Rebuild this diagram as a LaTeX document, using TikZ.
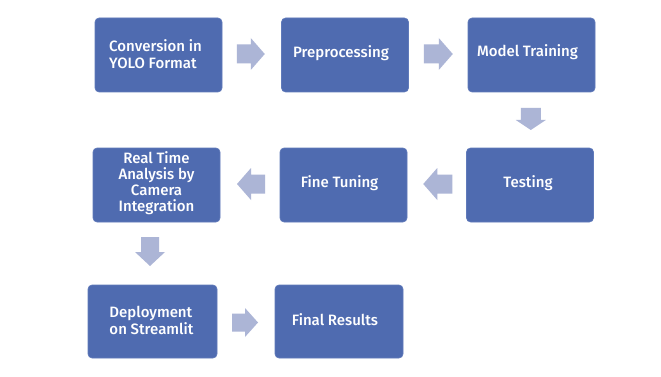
\documentclass[tikz,border=0pt]{standalone}
\usepackage{fontspec}
\setmainfont{Fira Sans Medium}
\usetikzlibrary{calc}
\definecolor{boxblue}{RGB}{79,107,176}
\definecolor{boxedge}{RGB}{96,122,186}
\definecolor{arrowblue}{RGB}{172,181,214}
\tikzset{
  stepbox/.style={draw=boxedge, line width=0.6pt, fill=boxblue, rounded corners=4pt,
    minimum width=127pt, minimum height=74pt, inner sep=0pt, text=white},
  lbl/.style={text=white, font=\fontsize{15}{17.5}\selectfont, inner sep=0pt}
}
% block arrow: centre, rotation, length, head length, shaft half width, head half width
\newcommand\BArrow[6]{\fill[arrowblue,shift={#1},rotate=#2] (-#3/2,-#5) -- (#3/2-#4,-#5) -- (#3/2-#4,-#6) -- (#3/2,0) -- (#3/2-#4,#6) -- (#3/2-#4,#5) -- (-#3/2,#5) -- cycle;}
\begin{document}
\begin{tikzpicture}[x=1pt,y=-1pt]
\useasboundingbox[fill=white] (0,0) rectangle (661,377);
% boxes
\node[stepbox] (b1) at (158.5,55) {};
\node[stepbox] (b2) at (345,55) {};
\node[stepbox] (b3) at (531.5,55) {};
\node[stepbox] (b4) at (530,185) {};
\node[stepbox] (b5) at (343.5,185) {};
\node[stepbox] (b6) at (156.5,185) {};
\node[stepbox, minimum width=129pt, minimum height=73pt] (b7) at (152.5,321.5) {};
\node[stepbox, minimum width=128pt, minimum height=73pt] (b8) at (339,321.5) {};
% labels
\node[lbl, align=left] (t1) at ($(b1)+(-3,-1)$) {Conversion in\\YOLO Format};
\node[lbl] (t2) at ($(b2)+(-4,-2)$) {Preprocessing};
\node[lbl] (t3) at ($(b3)+(-4,-3)$) {Model Training};
\node[lbl] (t4) at ($(b4)+(-2,-2)$) {Testing};
\node[lbl] (t5) at ($(b5)+(-4,-2)$) {Fine Tuning};
\node[lbl, align=center, font=\fontsize{15}{15.8}\selectfont] (t6) at ($(b6)+(0,-2)$) {Real Time\\Analysis by\\Camera\\Integration};
\node[lbl, align=left] (t7) at ($(b7)+(-1,-1)$) {Deployment\\on Streamlit};
\node[lbl] (t8) at ($(b8)+(-4,-2)$) {Final Results};
% block arrows between boxes
\BArrow{($(b1.east)!0.5!(b2.west)+(-1,-1)$)}{0}{28}{14}{9.5}{16}
\BArrow{($(b2.east)!0.5!(b3.west)+(0,-1)$)}{0}{29}{14}{9.5}{16}
\BArrow{($(b3.south)!0.5!(b4.north)+(0,-1)$)}{-90}{22}{10}{10}{15}
\BArrow{($(b4.west)!0.5!(b5.east)+(1,-1)$)}{180}{29}{14}{9.5}{16}
\BArrow{($(b5.west)!0.5!(b6.east)+(1,-1)$)}{180}{28}{14}{9.5}{16}
\BArrow{($(b6.south)!0.5!(b7.north)+(-4.5,-2)$)}{-90}{29}{14}{9}{15}
\BArrow{($(b7.east)!0.5!(b8.west)+(-1,1)$)}{0}{26}{13}{9}{14.5}
\end{tikzpicture}
\end{document}
